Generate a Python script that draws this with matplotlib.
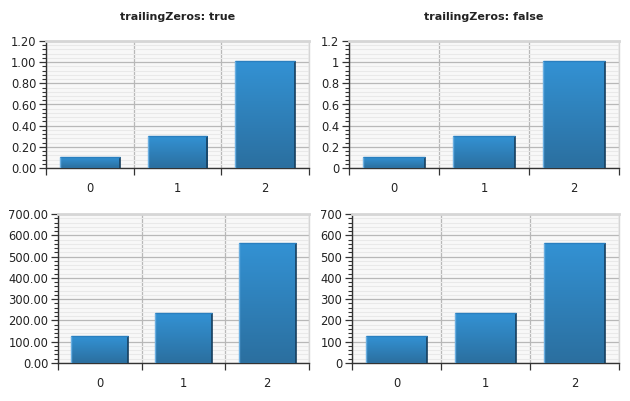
import matplotlib
matplotlib.use("Agg")
import matplotlib.pyplot as plt
import numpy as np
from matplotlib.ticker import MultipleLocator, FixedLocator, FormatStrFormatter, FuncFormatter, NullFormatter
from matplotlib.colors import LinearSegmentedColormap

categories = ["0", "1", "2"]
small_values = [0.10, 0.30, 1.01]
large_values = [126, 233, 565]
titles = ["trailingZeros: true", "trailingZeros: false"]

plt.rcParams['font.family'] = ['DejaVu Sans']

fig = plt.figure(figsize=(6.30, 4.01), dpi=100)

rects = {
    (0, 0): [46/630, (401-168)/401, 263/630, 127/401],
    (0, 1): [349/630, (401-168)/401, 270/630, 127/401],
    (1, 0): [58/630, (401-363)/401, 251/630, 149/401],
    (1, 1): [352/630, (401-363)/401, 267/630, 149/401],
}

grad = np.linspace(0, 1, 256).reshape(-1, 1)
cmap = LinearSegmentedColormap.from_list("barg", ["#2b6f9f", "#3392d4"])

def draw(ax, values, ymax, major, minor, fmt, title=None):
    ax.set_facecolor("#f8f8f8")
    x = np.arange(len(categories))
    bars = ax.bar(x, values, width=0.68, color="#3088c4", edgecolor="none", zorder=3)
    ax.set_xlim(-0.5, len(categories) - 0.5)
    ax.set_ylim(0, ymax)
    for b in bars:
        x0, y0 = b.get_x(), b.get_y()
        w, h = b.get_width(), b.get_height()
        im = ax.imshow(grad, cmap=cmap, extent=[x0, x0 + w, y0, y0 + h],
                       origin="lower", aspect="auto", zorder=3.5)
        im.set_clip_path(b)
        ax.plot([x0 + w, x0 + w], [y0, y0 + h], color="#173f5e", lw=1.2, zorder=4, solid_capstyle="butt")
        ax.plot([x0, x0 + w], [y0 + h, y0 + h], color="#2a7fbf", lw=1.0, zorder=4, solid_capstyle="butt")
        ax.plot([x0, x0], [y0, y0 + h], color="#6aaee0", lw=1.0, zorder=4, solid_capstyle="butt")
    ax.set_aspect("auto")

    ax.yaxis.set_major_locator(MultipleLocator(major))
    ax.yaxis.set_minor_locator(MultipleLocator(minor))
    ax.yaxis.set_major_formatter(fmt)
    ax.xaxis.set_major_locator(FixedLocator(np.arange(-0.5, len(categories), 1.0)))
    ax.xaxis.set_major_formatter(NullFormatter())
    ax.xaxis.set_minor_locator(FixedLocator(x))
    ax.xaxis.set_minor_formatter(FuncFormatter(lambda v, p: categories[int(round(v))]))

    ax.grid(which="major", axis="both", color="#b8b8b8", lw=0.9, zorder=1)
    ax.grid(which="minor", axis="y", color="#e9e9e9", lw=0.8, zorder=0.5)
    ax.grid(which="minor", axis="x", visible=False)
    ax.set_axisbelow(True)

    ax.tick_params(axis="y", which="major", length=5, width=0.9, color="#333333",
                   labelsize=8.3, labelcolor="#222222", pad=2)
    ax.tick_params(axis="y", which="minor", length=3, width=0.8, color="#333333")
    ax.tick_params(axis="x", which="major", length=5, width=0.9, color="#333333")
    ax.tick_params(axis="x", which="minor", length=0, labelsize=8.3, labelcolor="#222222", pad=10)

    for s in ["left", "bottom"]:
        ax.spines[s].set_color("#333333")
        ax.spines[s].set_linewidth(1.0)
    ax.spines["top"].set_color("#d6d6d6")
    ax.spines["top"].set_linewidth(2.0)
    ax.spines["right"].set_color("#d6d6d6")
    ax.spines["right"].set_linewidth(1.0)
    if title:
        ax.set_title(title, fontsize=8, fontweight="bold", color="#222222", pad=15)

fixed2 = FormatStrFormatter("%.2f")
gfmt = FuncFormatter(lambda v, p: ("%g" % round(v, 6)))

draw(fig.add_axes(rects[(0, 0)]), small_values, 1.2, 0.2, 0.04, fixed2, titles[0])
draw(fig.add_axes(rects[(0, 1)]), small_values, 1.2, 0.2, 0.04, gfmt, titles[1])
draw(fig.add_axes(rects[(1, 0)]), large_values, 700, 100, 20, fixed2)
draw(fig.add_axes(rects[(1, 1)]), large_values, 700, 100, 20, gfmt)

fig.savefig("out.png", dpi=100)
